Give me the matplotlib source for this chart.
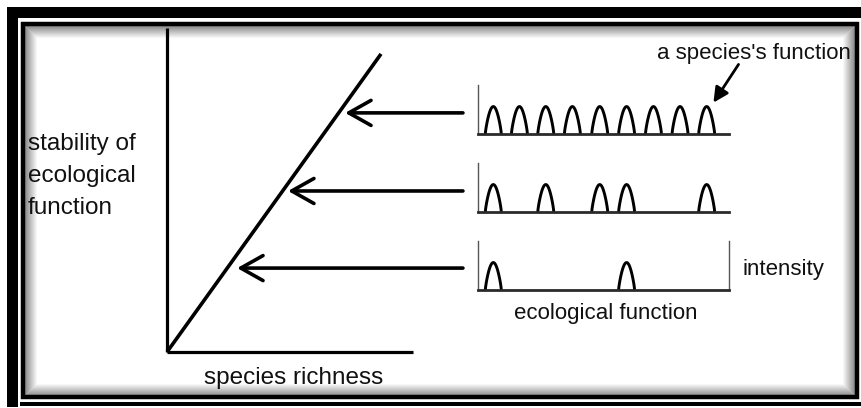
import numpy as np
import matplotlib
matplotlib.use('Agg')
import matplotlib.pyplot as plt
from matplotlib.patches import Rectangle

plt.rcParams['font.family'] = ['Liberation Sans', 'DejaVu Sans']

# data
# stability vs richness line (normalised units)
richness_line = [0.0, 0.87]
stability_line = [0.0, 0.92]
# the three communities: stability level and where each arrow points
arrow_levels = [0.738, 0.497, 0.259]
arrow_tips = [0.724, 0.492, 0.285]
arrow_tail = 1.203
# species peaks along the ecological function axis (0..10)
peaks_high = [0.61, 1.65, 2.70, 3.76, 4.85, 5.92, 6.99, 8.05, 9.11]
peaks_mid = [0.61, 2.70, 4.85, 5.92, 9.11]
peaks_low = [0.61, 5.92]
peak_height = 0.56
peak_halfwidth = 0.32

W, H = 861, 408
dpi = 100
fig = plt.figure(figsize=(W / dpi, H / dpi), dpi=dpi)

# background / frame in pixel coordinates
bg = fig.add_axes([0, 0, 1, 1])
bg.set_xlim(0, W)
bg.set_ylim(H, 0)
bg.axis('off')
# inner shadow
for i in range(12):
    g = 0.55 + 0.038 * i
    bg.add_patch(Rectangle((25 + i, 26 + i), 829 - 2 * i, 369 - 2 * i,
                           fill=False, lw=0.75, edgecolor=(g, g, g)))
# inner black line
bg.add_patch(Rectangle((22.5, 24), 834, 373, fill=False, lw=3.2, edgecolor='black'))
# outer thick border
bg.add_patch(Rectangle((7, 7), W, 11, color='black', lw=0))
bg.add_patch(Rectangle((7, 7), 10.5, 400, color='black', lw=0))
bg.add_patch(Rectangle((20, 402), W, 3.5, color='black', lw=0))


def px_axes(x0, y0, x1, y1):
    return fig.add_axes([x0 / W, 1 - y1 / H, (x1 - x0) / W, (y1 - y0) / H])


# main plot
ax = px_axes(167, 28, 413, 352)
ax.set_xlim(0, 1)
ax.set_ylim(0, 1)
ax.patch.set_alpha(0)
for s in ['top', 'right']:
    ax.spines[s].set_visible(False)
for s in ['left', 'bottom']:
    ax.spines[s].set_linewidth(2.3)
    ax.spines[s].set_capstyle('butt')
ax.set_xticks([])
ax.set_yticks([])
ax.plot(richness_line, stability_line, color='black', lw=2.6,
        solid_capstyle='butt', clip_on=False)
for lev, tip in zip(arrow_levels, arrow_tips):
    ax.annotate('', xy=(tip, lev), xytext=(arrow_tail, lev),
                xycoords='data', textcoords='data', annotation_clip=False,
                arrowprops=dict(arrowstyle='->,head_length=0.8,head_width=0.45',
                                mutation_scale=20, lw=2.6, color='black',
                                shrinkA=0, shrinkB=0))

ax.text(0.515, -0.08, 'species richness', transform=ax.transAxes,
        ha='center', va='center', fontsize=17.5, color='#111111')
fig.text(28 / W, 1 - 176 / H, 'stability of\necological\nfunction',
         ha='left', va='center', fontsize=17.5, color='#111111', linespacing=1.6)

# the three ecological function panels
panel_rows = [(85, 134), (163, 212), (241, 290)]
panel_peaks = [peaks_high, peaks_mid, peaks_low]
mini_axes = []
u = np.linspace(-1, 1, 41)
for k, ((y0, y1), peaks) in enumerate(zip(panel_rows, panel_peaks)):
    m = px_axes(478, y0, 729, y1)
    m.set_xlim(0, 10)
    m.set_ylim(0, 1)
    m.patch.set_alpha(0)
    m.set_xticks([])
    m.set_yticks([])
    m.spines['top'].set_visible(False)
    m.spines['right'].set_visible(k == 2)
    m.spines['left'].set_linewidth(1.0)
    m.spines['left'].set_color('#555555')
    m.spines['right'].set_linewidth(1.0)
    m.spines['right'].set_color('#555555')
    m.spines['bottom'].set_linewidth(2.0)
    m.spines['bottom'].set_color('#2a2a2a')
    for c in peaks:
        shape = np.cos(np.pi / 2 * u) ** 0.8
        m.plot(c + peak_halfwidth * u, peak_height * shape, color='black',
               lw=2.1, solid_capstyle='butt')
    mini_axes.append(m)

top = mini_axes[0]
top.annotate('', xy=(9.38, 0.64), xytext=(10.38, 1.42),
             xycoords='data', textcoords='data', annotation_clip=False,
             arrowprops=dict(arrowstyle='-|>,head_length=0.6,head_width=0.3',
                             mutation_scale=15, lw=2.0, color='black',
                             shrinkA=0, shrinkB=0))
fig.text(657 / W, 1 - 53 / H, "a species's function", ha='left', va='center',
         fontsize=16, color='#111111')
fig.text(606 / W, 1 - 313 / H, 'ecological function', ha='center', va='center',
         fontsize=16, color='#111111')
fig.text(743 / W, 1 - 270 / H, 'intensity', ha='left', va='center',
         fontsize=16, color='#111111')

fig.savefig('out.png', dpi=dpi)
